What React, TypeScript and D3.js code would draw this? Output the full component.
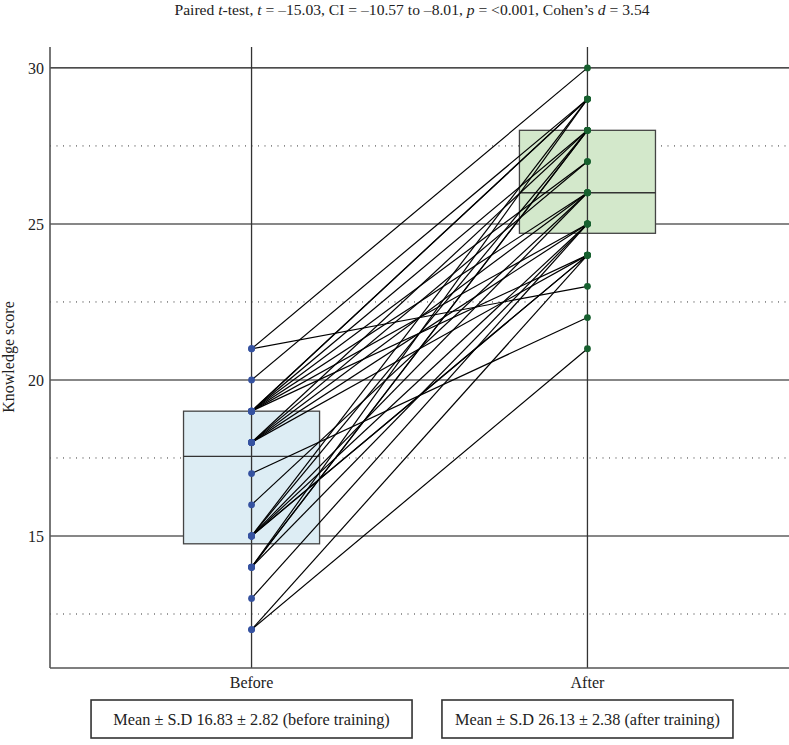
import React, { useEffect, useRef } from "react";
import * as d3 from "d3";

const groups = ["Before", "After"];
const beforeScores = [12, 12, 13, 16, 17, 20, 21, 21, 19, 19, 19, 19, 19, 19, 19, 18, 18, 18, 18, 18, 15, 15, 15, 15, 15, 15, 14, 14, 14, 14];
const afterScores = [21, 24, 25, 26, 22, 29, 23, 30, 29, 29, 28, 27, 26, 24, 25, 28, 27, 26, 25, 24, 29, 28, 26, 25, 24, 24, 29, 28, 28, 25];
const boxQ1 = [14.75, 24.7];
const boxMedian = [17.55, 26.0];
const boxQ3 = [19.0, 28.0];
const majorTicks = [15, 20, 25, 30];
const minorTicks = [12.5, 17.5, 22.5, 27.5];
const summaryLabels = ["Mean ± S.D 16.83 ± 2.82 (before training)", "Mean ± S.D 26.13 ± 2.38 (after training)"];
const boxFills = ["#ddedf4", "#d3e8cb"];
const dotFills = ["#3552a0", "#17602f"];

const W = 789, H = 745;
const FONT = "'Liberation Serif', 'Times New Roman', serif";
const summaryBoxWidths = [321, 291];

export default function App() {
  const ref = useRef<SVGSVGElement | null>(null);
  useEffect(() => {
    const svg = d3.select(ref.current);
    svg.selectAll("*").remove();
    const left = 50, right = 789, top = 47, bottom = 668;
    const y = d3.scaleLinear().domain([10.77, 30.67]).range([bottom, top]);
    const x = d3.scalePoint<string>().domain(groups).range([left, right]).padding(0.6);
    const step = x.step();
    const bw = step * 0.405;

    // title
    const title = svg.append("text").attr("x", 412).attr("y", 15).attr("text-anchor", "middle")
      .attr("font-family", FONT).attr("font-size", 15.6).attr("fill", "#222");
    const parts: [string, boolean][] = [["Paired ", false], ["t", true], ["-test, ", false], ["t", true], [" = \u201315.03, CI = \u201310.57 to \u20138.01, ", false], ["p", true], [" = <0.001, Cohen\u2019s ", false], ["d", true], [" = 3.54", false]];
    parts.forEach(([s, it]) => title.append("tspan").attr("font-style", it ? "italic" : "normal").text(s));

    // minor dotted grid
    svg.append("g").selectAll("line").data(minorTicks).join("line")
      .attr("x1", left).attr("x2", right).attr("y1", d => y(d)).attr("y2", d => y(d))
      .attr("stroke", "#333").attr("stroke-width", 1).attr("stroke-dasharray", "1,5.5");
    // major grid
    svg.append("g").selectAll("line").data(majorTicks).join("line")
      .attr("x1", left).attr("x2", right).attr("y1", d => y(d)).attr("y2", d => y(d))
      .attr("stroke", "#111").attr("stroke-width", 1.1);

    // boxes
    groups.forEach((g, i) => {
      const cx = x(g)!;
      svg.append("rect").attr("x", cx - bw / 2).attr("y", y(boxQ3[i])).attr("width", bw)
        .attr("height", y(boxQ1[i]) - y(boxQ3[i])).attr("fill", boxFills[i]).attr("stroke", "#444").attr("stroke-width", 1.3);
      svg.append("line").attr("x1", cx - bw / 2).attr("x2", cx + bw / 2).attr("y1", y(boxMedian[i])).attr("y2", y(boxMedian[i]))
        .attr("stroke", "#333").attr("stroke-width", 1.3);
    });

    // group vertical lines
    svg.append("g").selectAll("line").data(groups).join("line")
      .attr("x1", d => x(d)!).attr("x2", d => x(d)!).attr("y1", top).attr("y2", bottom)
      .attr("stroke", "#333").attr("stroke-width", 1.3);

    // frame
    svg.append("line").attr("x1", left).attr("x2", left).attr("y1", top).attr("y2", bottom).attr("stroke", "#555").attr("stroke-width", 1.6);
    svg.append("line").attr("x1", left).attr("x2", right).attr("y1", bottom).attr("y2", bottom).attr("stroke", "#555").attr("stroke-width", 1.6);

    // pair lines
    const pairs = beforeScores.map((b, i) => [b, afterScores[i]]);
    svg.append("g").selectAll("line").data(pairs).join("line")
      .attr("x1", x("Before")!).attr("x2", x("After")!).attr("y1", d => y(d[0])).attr("y2", d => y(d[1]))
      .attr("stroke", "#000").attr("stroke-width", 1.2);

    // points
    [beforeScores, afterScores].forEach((arr, i) => {
      svg.append("g").selectAll("circle").data(arr).join("circle")
        .attr("cx", x(groups[i])!).attr("cy", d => y(d)).attr("r", 3.4).attr("fill", dotFills[i]);
    });

    // y tick labels
    svg.append("g").selectAll("text").data(majorTicks).join("text")
      .attr("x", 44).attr("y", d => y(d)).attr("dy", "0.35em").attr("text-anchor", "end")
      .attr("font-family", FONT).attr("font-size", 16).attr("fill", "#222").text(d => d);
    // y label
    svg.append("text").attr("transform", `translate(14,357) rotate(-90)`).attr("text-anchor", "middle")
      .attr("font-family", FONT).attr("font-size", 16).attr("fill", "#222").text("Knowledge score");
    // x labels
    svg.append("g").selectAll("text").data(groups).join("text")
      .attr("x", d => x(d)!).attr("y", 688).attr("text-anchor", "middle")
      .attr("font-family", FONT).attr("font-size", 16).attr("fill", "#222").text(d => d);

    // summary boxes
    groups.forEach((g, i) => {
      const cx = x(g)!;
      const bwS = summaryBoxWidths[i];
      svg.append("rect").attr("x", cx - bwS / 2).attr("y", 700).attr("width", bwS).attr("height", 38)
        .attr("fill", "none").attr("stroke", "#333").attr("stroke-width", 1.6);
      svg.append("text").attr("x", cx).attr("y", 719).attr("dy", "0.35em").attr("text-anchor", "middle")
        .attr("font-family", FONT).attr("font-size", 16.3).attr("fill", "#222").text(summaryLabels[i]);
    });
  }, []);
  return (
    <svg ref={ref} width={W} height={H} style={{ position: "absolute", left: 0, top: 0, background: "#fff" }} />
  );
}
